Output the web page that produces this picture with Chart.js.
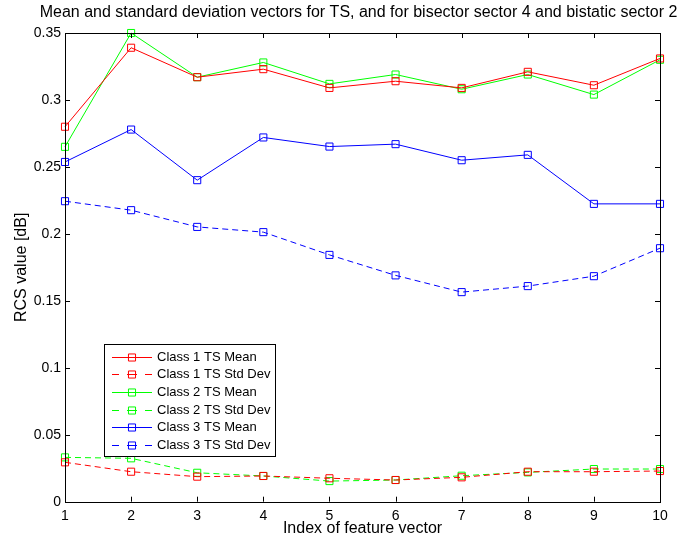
<!DOCTYPE html>
<html>
<head>
<meta charset="utf-8">
<script src="https://cdn.jsdelivr.net/npm/chart.js@4/dist/chart.umd.min.js"></script>
<style>
  html, body { margin: 0; padding: 0; background: #fff; }
  #chartContainer { width: 682px; height: 538px; }
</style>
</head>
<body>
<div id="chartContainer"><canvas id="myChart" width="682" height="538"></canvas></div>
<script>
const featureIndex = [1, 2, 3, 4, 5, 6, 7, 8, 9, 10];

const class1Mean = [0.280, 0.339, 0.317, 0.323, 0.309, 0.314, 0.309, 0.321, 0.311, 0.331];
const class1Std  = [0.0294, 0.0224, 0.0187, 0.0192, 0.0175, 0.0162, 0.0182, 0.0224, 0.0224, 0.0229];
const class2Mean = [0.265, 0.350, 0.317, 0.328, 0.312, 0.319, 0.308, 0.319, 0.304, 0.330];
const class2Std  = [0.0331, 0.0324, 0.0216, 0.0192, 0.0154, 0.0162, 0.0194, 0.0219, 0.0244, 0.0244];
const class3Mean = [0.2537, 0.2779, 0.2401, 0.272, 0.2652, 0.267, 0.255, 0.259, 0.2224, 0.2224];
const class3Std  = [0.2244, 0.2177, 0.2052, 0.2013, 0.1843, 0.169, 0.1565, 0.161, 0.1684, 0.1893];

const seriesLabels = [
    'Class 1 TS Mean', 'Class 1 TS Std Dev',
    'Class 2 TS Mean', 'Class 2 TS Std Dev',
    'Class 3 TS Mean', 'Class 3 TS Std Dev'
];

const chartTitle = 'Mean and standard deviation vectors for TS, and for bisector sector 4 and bistatic sector 2';
const fontFamily = '"Liberation Sans", Arial, Helvetica, sans-serif';

function makeDataset(label, values, color, dashed) {
    return {
        label: label,
        data: featureIndex.map((x, i) => ({ x: x, y: values[i] })),
        borderColor: color,
        backgroundColor: 'rgba(0,0,0,0)',
        borderWidth: 1,
        borderDash: dashed ? [6, 4] : [],
        pointStyle: 'rect',
        pointRadius: 5,
        pointHoverRadius: 5,
        pointBorderWidth: 1,
        pointBorderColor: color,
        pointBackgroundColor: 'rgba(0,0,0,0)',
        fill: false,
        tension: 0,
        clip: false
    };
}

const datasets = [
    makeDataset(seriesLabels[0], class1Mean, '#ff0000', false),
    makeDataset(seriesLabels[1], class1Std, '#ff0000', true),
    makeDataset(seriesLabels[2], class2Mean, '#00ff00', false),
    makeDataset(seriesLabels[3], class2Std, '#00ff00', true),
    makeDataset(seriesLabels[4], class3Mean, '#0000ff', false),
    makeDataset(seriesLabels[5], class3Std, '#0000ff', true)
];

// box around the axes with inward ticks, plus the plot title
const framePlugin = {
    id: 'frame',
    afterDraw(chart) {
        const ctx = chart.ctx;
        const a = chart.chartArea;
        const xs = chart.scales.x;
        const ys = chart.scales.y;
        const len = 5;
        ctx.save();
        ctx.strokeStyle = '#000';
        ctx.lineWidth = 1;
        ctx.beginPath();
        xs.ticks.forEach(t => {
            const px = Math.round(xs.getPixelForValue(t.value)) + 0.5;
            ctx.moveTo(px, a.bottom); ctx.lineTo(px, a.bottom - len);
            ctx.moveTo(px, a.top); ctx.lineTo(px, a.top + len);
        });
        ys.ticks.forEach(t => {
            const py = Math.round(ys.getPixelForValue(t.value)) + 0.5;
            ctx.moveTo(a.left, py); ctx.lineTo(a.left + len, py);
            ctx.moveTo(a.right, py); ctx.lineTo(a.right - len, py);
        });
        ctx.stroke();
        ctx.strokeRect(Math.round(a.left) + 0.5, Math.round(a.top) + 0.5,
            Math.round(a.right - a.left), Math.round(a.bottom - a.top));

        ctx.fillStyle = '#000';
        ctx.font = '16px ' + fontFamily;
        ctx.textAlign = 'center';
        ctx.textBaseline = 'middle';
        ctx.fillText(chartTitle, (a.left + a.right) / 2 - 4, 13);
        ctx.restore();
    }
};

// legend box inside the plot, lower left
const boxLegendPlugin = {
    id: 'boxLegend',
    afterDraw(chart) {
        const ctx = chart.ctx;
        const a = chart.chartArea;
        const bx = a.left + 39, by = a.top + 311, bw = 171, bh = 112;
        const rowH = 17.7;
        ctx.save();
        ctx.fillStyle = '#fff';
        ctx.fillRect(bx, by, bw, bh);
        ctx.strokeStyle = '#000';
        ctx.lineWidth = 1;
        ctx.strokeRect(Math.round(bx) + 0.5, Math.round(by) + 0.5, bw, bh);
        ctx.font = '13px ' + fontFamily;
        ctx.textBaseline = 'middle';
        chart.data.datasets.forEach((ds, i) => {
            const y = Math.round(by + 12.5 + i * rowH) + 0.5;
            const x0 = bx + 8, x1 = bx + 48, mid = (x0 + x1) / 2;
            ctx.strokeStyle = ds.borderColor;
            ctx.lineWidth = 1;
            ctx.beginPath();
            if (ds.borderDash.length) {
                ctx.moveTo(x0, y); ctx.lineTo(x0 + 7, y);
                ctx.moveTo(mid - 5, y); ctx.lineTo(mid + 5, y);
                ctx.moveTo(x1 - 7, y); ctx.lineTo(x1, y);
            } else {
                ctx.moveTo(x0, y); ctx.lineTo(x1, y);
            }
            ctx.stroke();
            ctx.fillStyle = 'rgba(0,0,0,0)';
            Chart.helpers.drawPoint(ctx, {
                pointStyle: 'rect', radius: 5, borderWidth: 1
            }, mid, y);
            ctx.fillStyle = '#000';
            ctx.textAlign = 'left';
            ctx.fillText(ds.label, x1 + 5, y);
        });
        ctx.restore();
    }
};

let myChart = null;

function createChart() {
    if (myChart !== null) {
        myChart.destroy();
    }
    const ctx = document.getElementById('myChart').getContext('2d');
    myChart = new Chart(ctx, {
        type: 'line',
        data: { datasets: datasets },
        options: {
            responsive: false,
            animation: false,
            devicePixelRatio: 1,
            layout: { padding: { top: 33, right: 22, bottom: 0, left: 0 } },
            plugins: {
                legend: { display: false },
                title: { display: false },
                tooltip: { enabled: false }
            },
            scales: {
                x: {
                    type: 'linear',
                    min: 1,
                    max: 10,
                    afterFit(scale) { scale.height = 36.3; },
                    grid: { display: false, drawTicks: false },
                    border: { display: false },
                    ticks: {
                        stepSize: 1,
                        color: '#000',
                        padding: 6,
                        font: { family: fontFamily, size: 14 }
                    },
                    title: {
                        display: true,
                        text: 'Index of feature vector',
                        color: '#000',
                        padding: { top: 0, bottom: 0 },
                        font: { family: fontFamily, size: 16 }
                    }
                },
                y: {
                    min: 0,
                    max: 0.35,
                    afterFit(scale) { scale.width = 65; },
                    grid: { display: false, drawTicks: false },
                    border: { display: false },
                    ticks: {
                        stepSize: 0.05,
                        color: '#000',
                        padding: 4,
                        font: { family: fontFamily, size: 14 },
                        callback: (value) => String(Number(value.toFixed(2)))
                    },
                    title: {
                        display: true,
                        text: 'RCS value [dB]',
                        color: '#000',
                        padding: { top: 12, bottom: 0 },
                        font: { family: fontFamily, size: 16 }
                    }
                }
            }
        },
        plugins: [framePlugin, boxLegendPlugin]
    });
}

createChart();
</script>
</body>
</html>
